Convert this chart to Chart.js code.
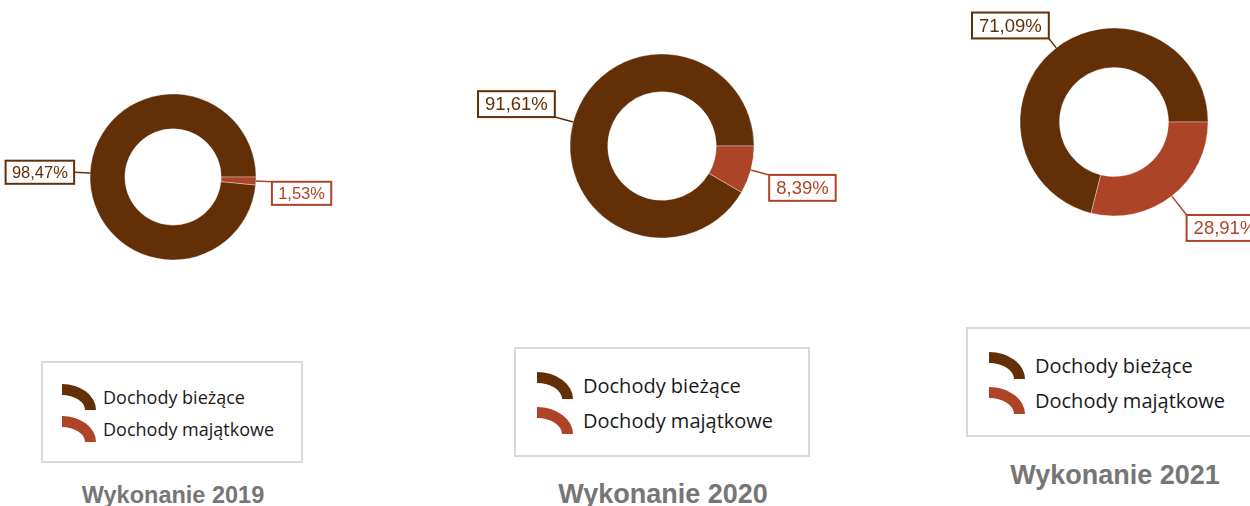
<!DOCTYPE html>
<html>
<head>
<meta charset="utf-8">
<script src="https://cdn.jsdelivr.net/npm/chart.js@4"></script>
<style>
  body { margin: 0; width: 1250px; height: 506px; overflow: hidden; background: #fff; position: relative; }
  canvas { position: absolute; }
  .legend { position: absolute; box-sizing: border-box; border: 2px solid #d9d9d9; font-family: 'Open Sans', sans-serif; color: #1a1a1a; white-space: nowrap; }
  .item { display: flex; align-items: center; }
  .title { position: absolute; font-family: 'Liberation Sans', Arial, sans-serif; font-weight: bold; color: #767676; white-space: nowrap; transform: translateX(-50%); line-height: 1; }
</style>
</head>
<body>
<script>
  const categories = ['Dochody bieżące', 'Dochody majątkowe'];
  const years = ['Wykonanie 2019', 'Wykonanie 2020', 'Wykonanie 2021'];
  const values2019 = [98.47, 1.53];
  const values2020 = [91.61, 8.39];
  const values2021 = [71.09, 28.91];
  const colors = ['#622F06', '#AE4427'];

  const allValues = [values2019, values2020, values2021];

  // where each doughnut, legend box and title sits
  const layout = [
    { cx: 173, cy: 177, r: 83, cutout: '58%', labelFont: 16.5, lineLen: [16, 16],
      legend: { x: 41, y: 361, w: 262, h: 102, font: 18, row: 32, top: 18, pad: 19, gap: 7, iw: 34, ih: 26 },
      title: { x: 173, font: 23.5, base: 504 } },
    { cx: 662, cy: 146, r: 92, cutout: '59%', labelFont: 18.5, lineLen: [19, 19],
      legend: { x: 514, y: 347, w: 296, h: 110, font: 20, row: 35, top: 18.5, pad: 21, gap: 10, iw: 36, ih: 27 },
      title: { x: 663, font: 27, base: 504 } },
    { cx: 1114, cy: 122, r: 94, cutout: '58%', labelFont: 18.5, lineLen: [12, 24],
      legend: { x: 966, y: 327, w: 300, h: 110, font: 20, row: 35, top: 18.5, pad: 21, gap: 10, iw: 36, ih: 27 },
      title: { x: 1115, font: 27, base: 485 } }
  ];

  const CW = 460, CH = 320;

  // boxed percentage labels with leader lines
  const sliceLabels = {
    id: 'sliceLabels',
    afterDatasetsDraw(chart, args, opts) {
      const ctx = chart.ctx;
      const meta = chart.getDatasetMeta(0);
      const data = chart.data.datasets[0].data;
      ctx.save();
      ctx.font = opts.font + 'px "Liberation Sans", Arial, sans-serif';
      ctx.textBaseline = 'middle';
      meta.data.forEach((arc, i) => {
        const p = arc.getProps(['x', 'y', 'startAngle', 'endAngle', 'outerRadius'], true);
        const mid = (p.startAngle + p.endAngle) / 2;
        const dx = Math.cos(mid), dy = Math.sin(mid);
        const ax = p.x + dx * p.outerRadius, ay = p.y + dy * p.outerRadius;
        const ex = ax + dx * opts.len[i], ey = ay + dy * opts.len[i];
        const col = colors[i];

        ctx.strokeStyle = col;
        ctx.lineWidth = 1.5;
        ctx.beginPath();
        ctx.moveTo(ax, ay);
        ctx.lineTo(ex, ey);
        ctx.stroke();

        const text = data[i].toFixed(2).replace('.', ',') + '%';
        const tw = ctx.measureText(text).width;
        const w = tw + opts.font * 0.76;
        const h = opts.font * 1.4;
        const bx = dx < 0 ? ex - w : ex;
        let by;
        if (dy < -0.2) by = ey - h;
        else if (dy > 0.02) by = ey;
        else by = ey - h / 2;

        ctx.fillStyle = '#fff';
        ctx.fillRect(bx, by, w, h);
        ctx.lineWidth = 2;
        ctx.strokeRect(bx, by, w, h);
        ctx.fillStyle = col;
        ctx.textAlign = 'center';
        ctx.fillText(text, bx + w / 2, by + h / 2 + 1);
      });
      ctx.restore();
    }
  };

  function iconSvg(color, w, h) {
    const t = 11;
    return '<svg width="' + w + '" height="' + h + '" style="flex:none">' +
      '<path fill="' + color + '" d="M0 0 A' + w + ' ' + h + ' 0 0 1 ' + w + ' ' + h +
      ' L' + (w - t) + ' ' + h + ' A' + (w - t) + ' ' + (h - t) + ' 0 0 0 0 ' + t + ' Z"/></svg>';
  }

  allValues.forEach((values, k) => {
    const L = layout[k];

    const canvas = document.createElement('canvas');
    canvas.width = CW;
    canvas.height = CH;
    canvas.style.left = (L.cx - CW / 2) + 'px';
    canvas.style.top = (L.cy - CH / 2) + 'px';
    document.body.appendChild(canvas);

    new Chart(canvas.getContext('2d'), {
      type: 'doughnut',
      data: {
        labels: categories,
        datasets: [{
          data: values,
          backgroundColor: colors,
          borderColor: 'rgba(255,255,255,0.35)',
          borderWidth: 1
        }]
      },
      options: {
        responsive: false,
        animation: false,
        devicePixelRatio: 1,
        radius: L.r,
        cutout: L.cutout,
        rotation: 90 - values[0] * 3.6,
        layout: { padding: 0 },
        plugins: {
          legend: { display: false },
          tooltip: { enabled: false },
          sliceLabels: { font: L.labelFont, len: L.lineLen }
        }
      },
      plugins: [sliceLabels]
    });

    // legend box
    const lg = L.legend;
    const box = document.createElement('div');
    box.className = 'legend';
    box.style.left = lg.x + 'px';
    box.style.top = lg.y + 'px';
    box.style.width = lg.w + 'px';
    box.style.height = lg.h + 'px';
    box.style.paddingTop = lg.top + 'px';
    box.style.paddingLeft = lg.pad + 'px';
    box.style.fontSize = lg.font + 'px';
    categories.forEach((c, i) => {
      const it = document.createElement('div');
      it.className = 'item';
      it.style.height = lg.row + 'px';
      it.innerHTML = iconSvg(colors[i], lg.iw, lg.ih) +
        '<span style="margin-left:' + lg.gap + 'px">' + c + '</span>';
      box.appendChild(it);
    });
    document.body.appendChild(box);

    const t = document.createElement('div');
    t.className = 'title';
    t.textContent = years[k];
    t.style.fontSize = L.title.font + 'px';
    t.style.left = L.title.x + 'px';
    t.style.top = (L.title.base - 0.8465 * L.title.font) + 'px';
    document.body.appendChild(t);
  });
</script>
</body>
</html>
